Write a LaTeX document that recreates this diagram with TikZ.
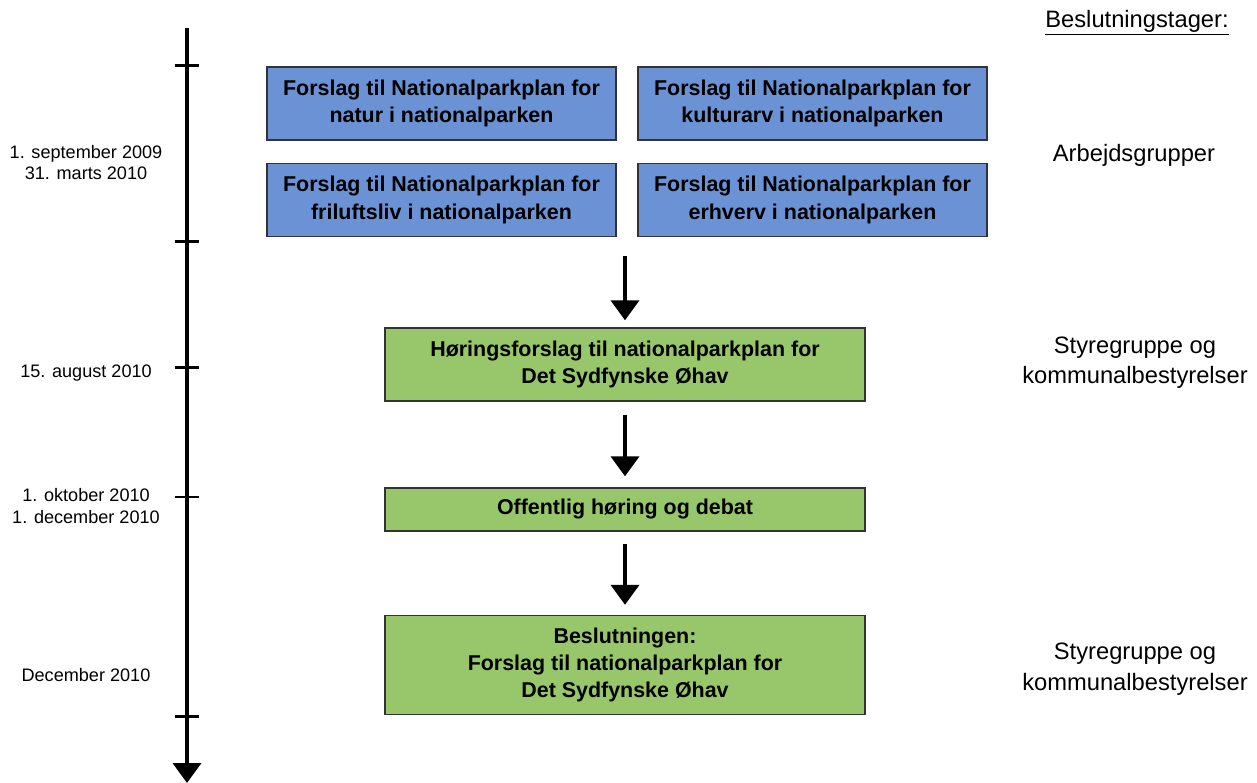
\documentclass[tikz,border=0pt]{standalone}
\usepackage{fontspec}
\setmainfont{Liberation Sans}
\usetikzlibrary{arrows.meta}
\definecolor{arbblue}{RGB}{106,146,212}
\definecolor{plangreen}{RGB}{151,199,106}

\tikzset{
	boks/.style={draw=black!80, line width=0.8pt, align=center, inner sep=0pt,
		font=\fontsize{12.2}{15.6}\selectfont\bfseries},
	arbboks/.style={boks, fill=arbblue, minimum width=6.98cm, minimum height=1.46cm},
	planboks/.style={boks, fill=plangreen, minimum width=9.6cm},
	flow/.style={line width=0.08cm, -{Triangle[width=0.56cm,length=0.4cm]}},
	dato/.style={align=center, font=\fontsize{10.3}{12.2}\selectfont},
	beslut/.style={align=center, font=\fontsize{13.5}{17.4}\selectfont},
}

\begin{document}
\begin{tikzpicture}[x=0.02cm, y=-0.02cm]
	\useasboundingbox (0,0) rectangle (1257,783);

	% tidslinje
	\coordinate (tidstart) at (187,28);
	\coordinate (tidslut) at (187,783);
	\draw[flow] (tidstart) -- (tidslut);
	\foreach \y in {66,242,368,497,716}
		\draw[line width=0.06cm] (175,\y) -- (199,\y);

	\node[dato] (d1) at (86,162.5) {1. september 2009\\31. marts 2010};
	\node[dato] (d2) at (86,373) {15. august 2010};
	\node[dato] (d3) at (86,506) {1. oktober 2010\\1. december 2010};
	\node[dato] (d4) at (86,675) {December 2010};

	% arbejdsgrupper
	\node[arbboks] (natur) at (441.5,103.5) {Forslag til Nationalparkplan for\\natur i nationalparken};
	\node[arbboks] (kultur) at (812.5,103.5) {Forslag til Nationalparkplan for\\kulturarv i nationalparken};
	\node[arbboks] (friluft) at (441.5,200) {Forslag til Nationalparkplan for\\friluftsliv i nationalparken};
	\node[arbboks] (erhverv) at (812.5,200) {Forslag til Nationalparkplan for\\erhverv i nationalparken};

	% planforslag
	\node[planboks, minimum height=1.46cm] (hoering) at (625,364.5) {H\o ringsforslag til nationalparkplan for\\Det Sydfynske \O hav};
	\node[planboks, minimum height=0.86cm] (offentlig) at (625,509.5) {Offentlig h\o ring og debat};
	\node[planboks, minimum height=1.98cm] (beslutning) at (625,665) {Beslutningen:\\Forslag til nationalparkplan for\\Det Sydfynske \O hav};

	\draw[flow, shorten <=0.38cm, shorten >=0.14cm] (friluft.south -| hoering.north) -- (hoering.north);
	\draw[flow, shorten <=0.26cm, shorten >=0.22cm] (hoering) -- (offentlig);
	\draw[flow, shorten <=0.24cm, shorten >=0.2cm] (offentlig) -- (beslutning);

	% beslutningstagere
	\node[beslut] (titel) at (1137,23) {\underline{Beslutningstager:}};
	\node[beslut] (arb) at (1134,155) {Arbejdsgrupper};
	\node[beslut] (styre1) at (1135,362.5) {Styregruppe og\\kommunalbestyrelser};
	\node[beslut] (styre2) at (1135,669) {Styregruppe og\\kommunalbestyrelser};
\end{tikzpicture}
\end{document}
